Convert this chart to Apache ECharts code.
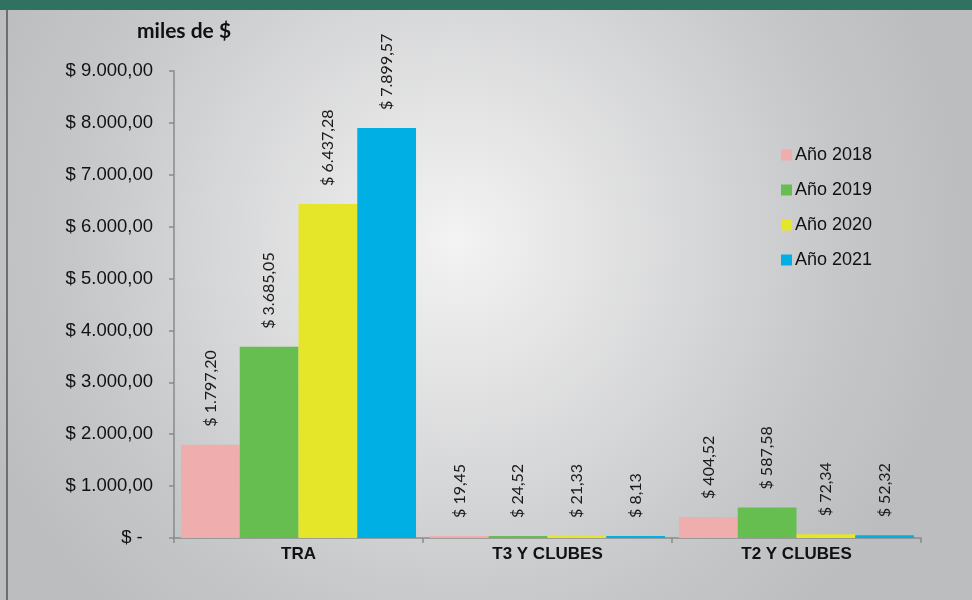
<!DOCTYPE html>
<html>
<head>
<meta charset="utf-8">
<script src="https://cdn.jsdelivr.net/npm/echarts@6/dist/echarts.min.js"></script>
<style>
  html, body { margin: 0; padding: 0; }
  #chart { width: 972px; height: 600px; }
</style>
</head>
<body>
<div id="chart"></div>
<script>
// datos
var categorias = ['TRA', 'T3 Y CLUBES', 'T2 Y CLUBES'];
var anios = ['Año 2018', 'Año 2019', 'Año 2020', 'Año 2021'];
var v2018 = [1797.20, 19.45, 404.52];
var v2019 = [3685.05, 24.52, 587.58];
var v2020 = [6437.28, 21.33, 72.34];
var v2021 = [7899.57, 8.13, 52.32];
var colores = ['#f0adad', '#66bd50', '#e5e52a', '#00b0e4'];

function fmt(v) {
    if (v === 0) return '$ -  ';
    var p = v.toFixed(2).split('.');
    var ent = p[0].replace(/\B(?=(\d{3})+(?!\d))/g, '.');
    return '$ ' + ent + ',' + p[1];
}

var chart = echarts.init(document.getElementById('chart'));

var valores = [v2018, v2019, v2020, v2021];
var series = [];
for (var i = 0; i < anios.length; i++) {
    series.push({
        name: anios[i],
        type: 'bar',
        data: valores[i],
        barGap: '0%',
        barCategoryGap: '5.6%',
        barMinHeight: 2,
        itemStyle: { color: colores[i] },
        label: {
            show: true,
            position: 'top',
            rotate: 90,
            align: 'left',
            verticalAlign: 'middle',
            distance: 18,
            fontFamily: 'Lato',
            fontSize: 16,
            color: '#1a1a1a',
            formatter: function (p) { return fmt(p.value); }
        }
    });
}

var option = {
    backgroundColor: {
        type: 'radial',
        x: 0.47, y: 0.4, r: 0.85,
        colorStops: [
            { offset: 0, color: '#f3f3f3' },
            { offset: 0.75, color: '#c6c7c9' },
            { offset: 1, color: '#bcbdbf' }
        ]
    },
    animation: false,
    graphic: [
        { type: 'rect', shape: { x: 0, y: 0, width: 972, height: 10 }, style: { fill: '#2f7262' } },
        { type: 'rect', shape: { x: 6, y: 10, width: 2, height: 590 }, style: { fill: '#6e6e6e' } },
        {
            type: 'text', left: 137, top: 21,
            style: { text: 'miles de $', font: 'bold 21px Lato', fill: '#111' }
        }
    ],
    legend: {
        orient: 'vertical',
        left: 781,
        top: 146,
        padding: 0,
        icon: 'rect',
        itemWidth: 11,
        itemHeight: 11,
        itemGap: 17,
        textStyle: { fontFamily: 'Liberation Sans', fontSize: 18, color: '#111', padding: [0, 0, 0, -2] },
        data: anios
    },
    grid: { left: 174, right: 51, top: 71, bottom: 62 },
    xAxis: {
        type: 'category',
        data: categorias,
        axisLine: { lineStyle: { color: '#8a8a8a', width: 1.5 } },
        axisTick: { show: true, length: 5, lineStyle: { color: '#8a8a8a', width: 1.5 } },
        axisLabel: { margin: 8, fontFamily: 'Liberation Sans', fontWeight: 'bold', fontSize: 17, color: '#111' }
    },
    yAxis: {
        type: 'value',
        min: 0,
        max: 9000,
        interval: 1000,
        splitLine: { show: false },
        axisLine: { show: true, lineStyle: { color: '#8a8a8a', width: 1.5 } },
        axisTick: { show: true, length: 5, lineStyle: { color: '#8a8a8a', width: 1.5 } },
        axisLabel: {
            margin: 21,
            fontFamily: 'Liberation Sans',
            fontSize: 18.5,
            color: '#111',
            formatter: fmt
        }
    },
    series: series
};

chart.setOption(option);
</script>
</body>
</html>
